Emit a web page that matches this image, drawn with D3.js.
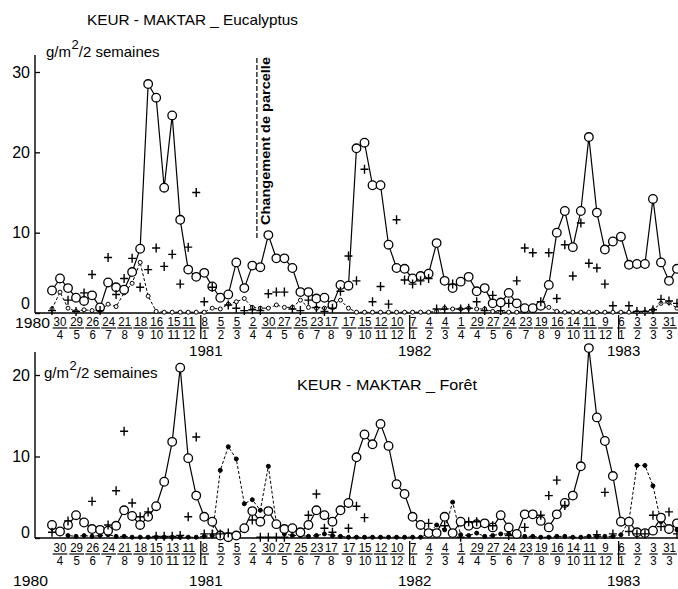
<!DOCTYPE html>
<html><head><meta charset="utf-8">
<script src="https://cdn.jsdelivr.net/npm/d3@7"></script>
<style>
html,body{margin:0;padding:0;background:#fff;}
svg{display:block;font-family:"Liberation Sans",Arial,sans-serif;}
</style></head><body>
<svg id="chart" width="678" height="589"></svg>
<script>
// ---------- DATA ----------
const sampleStart = "1980-04-16";
const sampleStepDays = 14;
const changeDate = "1981-04-09";
const changeLabel = "Changement de parcelle";
const unitLabel = ["g/m", "2", "/2 semaines"];
const titleTop = "KEUR - MAKTAR _ Eucalyptus";
const titleBottom = "KEUR - MAKTAR _ Forêt";
const yearNames = ["1980", "1981", "1982", "1983"];
const yTicksTop = [0, 10, 20, 30];
const yTicksBottom = [0, 10, 20];

const topLabelDates = ["1980-04-30","1980-05-29","1980-06-26","1980-07-24","1980-08-21","1980-09-18","1980-10-16","1980-11-15","1980-12-11",
  "1981-01-08","1981-02-05","1981-03-05","1981-04-02","1981-04-30","1981-05-27","1981-06-25","1981-07-23","1981-08-17","1981-09-17","1981-10-15","1981-11-12","1981-12-10",
  "1982-01-07","1982-02-04","1982-03-04","1982-04-01","1982-04-29","1982-05-27","1982-06-24","1982-07-23","1982-08-19","1982-09-16","1982-10-14","1982-11-11","1982-12-09",
  "1983-01-06","1983-02-03","1983-03-03","1983-03-31"];
const bottomLabelDates = ["1980-04-30","1980-05-29","1980-06-26","1980-07-24","1980-08-21","1980-09-18","1980-10-15","1980-11-13","1980-12-11",
  "1981-01-08","1981-02-05","1981-03-05","1981-04-02","1981-04-30","1981-05-27","1981-06-25","1981-07-23","1981-08-17","1981-09-17","1981-10-15","1981-11-12","1981-12-10",
  "1982-01-07","1982-02-04","1982-03-04","1982-04-01","1982-04-29","1982-05-27","1982-06-24","1982-07-23","1982-08-19","1982-09-16","1982-10-14","1982-11-11","1982-12-09",
  "1983-01-06","1983-02-03","1983-03-03","1983-03-31"];

// Eucalyptus (top)
const eucOpen = [2.8,4.3,3.1,1.9,1.5,2.2,0.7,3.8,3.2,2.9,
  5.1,8.0,28.5,26.8,15.6,24.6,11.6,5.4,4.5,5.0,
  3.3,1.9,2.3,6.3,3.1,5.9,5.7,9.7,6.8,6.8,
  5.6,2.6,2.6,1.8,1.9,1.0,3.5,3.4,20.5,21.2,
  15.9,15.9,8.5,5.6,5.5,4.3,4.6,4.9,8.7,4.0,
  3.1,3.9,4.5,2.7,3.1,1.2,1.3,2.5,1.2,0.6,
  0.6,0.9,3.5,10.0,12.7,8.2,12.7,21.9,12.5,7.9,
  8.9,9.5,6.0,6.1,6.1,14.2,6.3,4.0,5.5];
const eucSmall = [0.5,2.6,0.6,0.2,0.4,0.3,0.3,1.1,0.8,2.5,
  3.7,6.3,2.1,0.2,0.1,0.1,0.1,0.1,0.1,0.1,
  0.6,0.5,1.1,1.4,1.8,0.7,0.6,0.6,1.0,0.7,
  0.7,1.6,0.7,0.6,0.6,1.0,1.6,0.6,0.1,0.1,
  0.1,0.1,0.1,0.1,0.1,0.1,0.1,0.1,0.2,0.6,
  0.5,0.5,0.6,0.5,0.5,0.2,0.1,0.1,0.1,0.2,
  0.7,0.7,0.7,0.2,0.1,0.1,0.1,0.1,0.1,0.1,
  0.1,0.1,0.1,0.1,0.1,0.4,1.2,1.3,0.6];
const eucPlus = [0.3,null,1.6,0.2,2.5,4.8,0.3,6.9,2.3,4.3,
  6.8,3.2,5.4,8.1,5.8,7.3,3.6,8.2,15.0,1.4,
  3.2,null,1.0,0.6,0.3,0.4,0.3,2.4,2.6,2.6,
  0.5,0.3,1.6,0.7,0.2,0.6,2.7,7.1,4.0,17.9,
  1.4,3.3,1.1,11.6,4.1,3.6,4.0,4.3,0.5,0.5,
  3.6,0.5,0.6,1.4,0.3,2.2,0.3,1.2,4.0,8.1,
  7.5,1.4,7.5,1.8,8.5,4.6,11.2,6.2,5.6,3.6,
  0.9,null,0.9,0.2,0.2,0.4,1.7,1.5,1.2];

// Forêt (bottom)
const forOpen = [1.6,0.8,1.6,2.8,1.9,1.1,1.0,0.9,1.5,3.4,
  2.7,1.6,2.6,3.9,6.9,11.8,20.9,9.8,5.2,2.6,
  2.0,0.3,0.1,0.3,1.2,3.3,2.0,3.3,1.7,1.1,
  1.2,0.7,1.6,3.4,2.8,2.0,3.4,4.3,9.9,12.7,
  11.5,14.0,11.3,6.6,5.4,2.6,1.6,0.6,0.6,2.6,
  0.6,2.0,1.5,1.7,1.8,1.3,2.8,1.3,0.5,2.9,
  2.9,2.1,1.3,2.9,4.3,5.2,8.8,23.3,14.8,11.9,
  7.6,2.0,2.0,0.7,0.6,0.9,2.5,1.1,1.8];
const forSmall = [1.2,0.9,0.3,0.2,0.3,0.2,0.3,0.4,0.2,0.2,
  0.1,0.1,0.1,0.1,0.1,0.1,0.1,0.1,0.1,0.2,
  0.3,8.3,11.2,9.7,4.2,4.7,3.4,8.8,1.8,0.5,
  0.3,0.3,0.2,0.3,0.5,0.3,0.2,0.1,0.1,0.1,
  0.1,0.1,0.1,0.1,0.1,0.1,0.1,0.5,1.6,1.0,
  4.4,0.4,0.3,0.6,0.2,0.3,0.5,0.5,0.3,0.2,
  0.2,0.1,0.1,0.2,0.2,0.1,0.1,0.2,0.2,0.2,
  0.2,0.4,2.1,8.9,8.9,6.4,2.0,0.8,1.0];
const forPlus = [0.7,null,2.1,null,null,4.5,null,1.6,5.8,13.1,
  4.3,2.6,3.2,0.2,0.2,0.2,0.3,2.6,12.4,0.5,
  0.5,0.5,0.6,null,null,2.2,0.1,0.1,0.1,0.1,
  null,null,2.8,5.4,1.2,0.7,null,1.2,3.9,2.5,
  null,null,null,null,null,null,null,1.8,null,1.5,
  null,0.1,2.0,2.0,null,1.5,null,0.3,null,1.3,
  null,2.8,5.2,7.1,4.0,null,null,null,0.4,5.6,
  0.5,null,0.8,0.5,0.5,2.8,1.4,3.2,0.5];

// ---------- DRAWING ----------
const svg = d3.select("#chart");
const parse = d3.timeParse("%Y-%m-%d");
const t0 = parse(sampleStart);
const sampleDate = i => d3.timeDay.offset(t0, i * sampleStepDays);
const nSamples = eucOpen.length;
const x = d3.scaleTime().domain([t0, sampleDate(nSamples - 1)]).range([52, 677]);
const AX = 35;

const panels = [
  { yDomain: [0, 30], yRange: [313, 72], ticks: yTicksTop, axisTopY: 55,
    open: eucOpen, small: eucSmall, plus: eucPlus, smallFill: "#fff",
    labels: topLabelDates, dayBase: 325.5, lineY: 328, monthBase: 339, yearBase: 355.5,
    firstYear: { x: 15, base: 327.5 }, sepTop: 315, sepBot: 339,
    title: titleTop, titleX: 87, titleBase: 25, titleLen: 211,
    unitX: 46, unitBase: 57 },
  { yDomain: [0, 20], yRange: [538, 375], ticks: yTicksBottom, axisTopY: 352,
    open: forOpen, small: forSmall, plus: forPlus, smallFill: "#000",
    labels: bottomLabelDates, dayBase: 551.5, lineY: 554, monthBase: 565, yearBase: 586,
    firstYear: { x: 13, base: 586 }, sepTop: 541, sepBot: 565,
    title: titleBottom, titleX: 297, titleBase: 390, titleLen: 180,
    unitX: 44, unitBase: 378 }
];

panels.forEach((p, pi) => {
  const y = d3.scaleLinear().domain(p.yDomain).range(p.yRange);
  const g = svg.append("g");

  // axes lines
  g.append("line").attr("x1", AX).attr("x2", AX).attr("y1", p.axisTopY).attr("y2", y(0))
    .attr("stroke", "#000").attr("stroke-width", 1.4);
  g.append("line").attr("x1", AX).attr("x2", 678).attr("y1", y(0)).attr("y2", y(0))
    .attr("stroke", "#000").attr("stroke-width", 1.4);

  const yAxis = d3.axisLeft(y).tickValues(p.ticks).tickSize(-5).tickPadding(5).tickFormat(d3.format("d"));
  const ga = g.append("g").attr("transform", `translate(${AX},0)`).call(yAxis);
  ga.select(".domain").remove();
  ga.selectAll(".tick line").attr("stroke", "#000").attr("stroke-width", 1.3);
  ga.selectAll(".tick text").attr("font-size", 16).attr("fill", "#000")
    .attr("font-family", "'Liberation Sans',Arial,sans-serif")
    .attr("dy", d => d === 0 ? (pi === 0 ? "-0.28em" : "-0.05em") : "0.32em");

  // x labels
  const lab = p.labels.map(parse);
  const lg = g.append("g").attr("font-size", 12).attr("fill", "#000");
  lab.forEach(d => {
    const cx = x(d);
    const dayS = String(d.getDate()), monS = String(d.getMonth() + 1);
    const wd = dayS.length * 6.4, wm = monS.length * 6.4;
    lg.append("text").attr("x", cx).attr("y", p.dayBase).attr("text-anchor", "middle")
      .attr("textLength", wd).attr("lengthAdjust", "spacingAndGlyphs").text(dayS);
    lg.append("text").attr("x", cx).attr("y", p.monthBase).attr("text-anchor", "middle")
      .attr("textLength", wm).attr("lengthAdjust", "spacingAndGlyphs").text(monS);
    const w = Math.max(wd, wm) + 2;
    lg.append("line").attr("x1", cx - w / 2).attr("x2", cx + w / 2)
      .attr("y1", p.lineY).attr("y2", p.lineY).attr("stroke", "#000").attr("stroke-width", 1.2);
  });

  // year separators and labels
  yearNames.forEach((yn, k) => {
    if (k === 0) {
      g.append("text").attr("x", p.firstYear.x).attr("y", p.firstYear.base)
        .attr("font-size", 15).attr("textLength", 35).attr("lengthAdjust", "spacingAndGlyphs").text(yn);
      return;
    }
    const xs = x(new Date(+yn, 0, 1));
    g.append("line").attr("x1", xs).attr("x2", xs).attr("y1", p.sepTop).attr("y2", p.sepBot)
      .attr("stroke", "#000").attr("stroke-width", 1.3);
    g.append("text").attr("x", xs + 5).attr("y", p.yearBase).attr("text-anchor", "middle")
      .attr("font-size", 15).text(yn);
  });

  // title + unit
  g.append("text").attr("x", p.titleX).attr("y", p.titleBase).attr("font-size", 15)
    .attr("textLength", p.titleLen).attr("lengthAdjust", "spacingAndGlyphs").text(p.title);
  const ut = g.append("text").attr("x", p.unitX).attr("y", p.unitBase).attr("font-size", 15);
  ut.append("tspan").text(unitLabel[0]);
  ut.append("tspan").attr("dy", -8).attr("dx", 0.5).attr("font-size", 13).text(unitLabel[1]);
  ut.append("tspan").attr("dy", 8).text(unitLabel[2]);

  // series
  const idx = d3.range(nSamples);
  const line = d3.line().x(i => x(sampleDate(i)));
  g.append("path").attr("fill", "none").attr("stroke", "#000").attr("stroke-width", 1)
    .attr("stroke-dasharray", "3,2")
    .attr("d", line.y(i => y(p.small[i]))(idx));
  g.append("path").attr("fill", "none").attr("stroke", "#000").attr("stroke-width", 1.2)
    .attr("d", line.y(i => y(p.open[i]))(idx));

  g.selectAll(null).data(idx).join("circle")
    .attr("cx", i => x(sampleDate(i))).attr("cy", i => y(p.small[i])).attr("r", 2)
    .attr("fill", p.smallFill).attr("stroke", "#000").attr("stroke-width", 1);
  g.selectAll(null).data(idx).join("circle")
    .attr("cx", i => x(sampleDate(i))).attr("cy", i => y(p.open[i])).attr("r", 4.3)
    .attr("fill", "#fff").attr("stroke", "#000").attr("stroke-width", 1.3);
  g.selectAll(null).data(idx.filter(i => p.plus[i] != null)).join("path")
    .attr("transform", i => `translate(${x(sampleDate(i))},${y(p.plus[i])})`)
    .attr("d", "M-4,0H4M0,-4.5V4.5").attr("stroke", "#000").attr("stroke-width", 1.4);
});

// change of plot annotation (top panel)
const cx = x(parse(changeDate));
svg.append("line").attr("x1", cx).attr("x2", cx).attr("y1", 58).attr("y2", 238)
  .attr("stroke", "#000").attr("stroke-width", 1.2).attr("stroke-dasharray", "5,2");
svg.append("text").attr("transform", `translate(${cx + 13},225) rotate(-90)`)
  .attr("font-size", 13).attr("font-weight", "bold")
  .attr("textLength", 168).attr("lengthAdjust", "spacingAndGlyphs").text(changeLabel);
</script>
</body></html>
